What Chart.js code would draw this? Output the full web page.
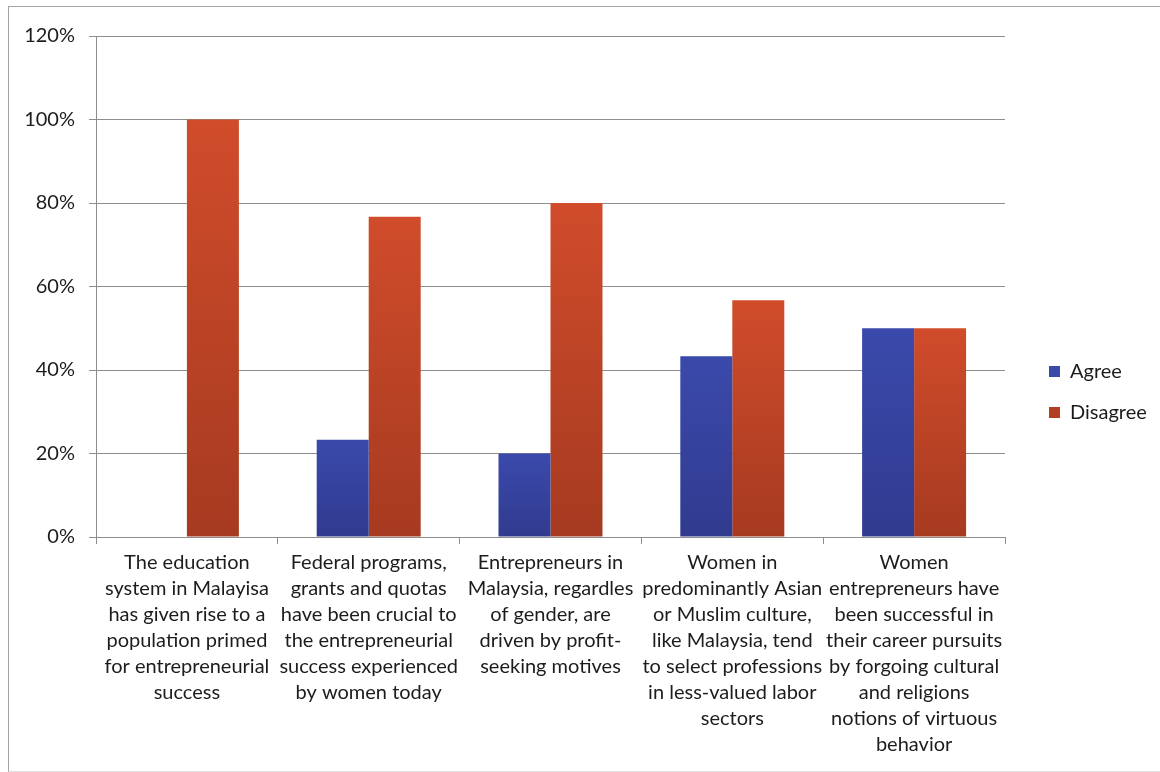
<!DOCTYPE html>
<html><head><meta charset="utf-8">
<script src="https://cdn.jsdelivr.net/npm/chart.js@4.4.1/dist/chart.umd.min.js"></script>
<style>
html,body{margin:0;padding:0;background:#fff;overflow:hidden;}
#frame{position:absolute;left:8px;top:6px;width:1200px;height:764px;border-left:1px solid #a4a4a4;border-top:1px solid #a4a4a4;border-bottom:1px solid #e0e0e0;}
canvas{position:absolute;left:0;top:0;}
</style></head><body>
<div id="frame"></div>
<canvas id="c" width="1160" height="772"></canvas>
<script>
const categories = [
  ["The education","system in Malayisa","has given rise to a","population primed","for entrepreneurial","success"],
  ["Federal programs,","grants and quotas","have been crucial to","the entrepreneurial","success experienced","by women today"],
  ["Entrepreneurs in","Malaysia, regardles","of gender, are","driven by profit-","seeking motives"],
  ["Women in","predominantly Asian","or Muslim culture,","like Malaysia, tend","to select professions","in less-valued labor","sectors"],
  ["Women","entrepreneurs have","been successful in","their career pursuits","by forgoing cultural","and religions","notions of virtuous","behavior"]
];
const seriesNames = ["Agree", "Disagree"];
const agree = [0, 23.3, 20, 43.3, 50];
const disagree = [100, 76.7, 80, 56.7, 50];
const yTicks = [0, 20, 40, 60, 80, 100, 120];

const FONT = "Lato, 'Open Sans', 'Noto Sans', sans-serif";
const GRID = '#8e8e8e';
const TEXT = '#1c1c1c';

function barFill(top, bottom, solid) {
  return (ctx) => {
    const chart = ctx.chart;
    if (!chart.chartArea || ctx.type !== 'data' || !ctx.parsed) return solid;
    const y = chart.scales.y;
    const yTop = y.getPixelForValue(ctx.parsed.y);
    const yBot = y.getPixelForValue(0);
    if (!(yBot > yTop)) return solid;
    const g = chart.ctx.createLinearGradient(0, yTop, 0, yBot);
    g.addColorStop(0, top);
    g.addColorStop(1, bottom);
    return g;
  };
}

const legendPatch = {
  id: 'legendPatch',
  beforeLayout(chart) {
    const lg = chart.legend;
    if (lg && !lg._patched) {
      const proto = Object.getPrototypeOf(lg);
      lg.fit = function () { proto.fit.call(this); this.width = 132; };
      lg._patched = true;
    }
  },
  afterLayout(chart) {
    const lg = chart.legend;
    if (lg) { lg.top -= 12; lg.bottom -= 12; }
  }
};

new Chart(document.getElementById('c'), {
  type: 'bar',
  data: {
    labels: categories,
    datasets: [
      { label: seriesNames[0], data: agree,
        backgroundColor: barFill('#3b49ab', '#303b8f', '#3b4aa8'), borderWidth: 0 },
      { label: seriesNames[1], data: disagree,
        backgroundColor: barFill('#d04c2b', '#a63a20', '#cc4f30'), borderWidth: 0 }
    ]
  },
  plugins: [legendPatch],
  options: {
    responsive: false,
    animation: false,
    devicePixelRatio: 1,
    layout: { padding: { top: 36, bottom: 0, left: 0, right: 0 } },
    datasets: { bar: { categoryPercentage: 0.572, barPercentage: 1.0 } },
    plugins: {
      tooltip: { enabled: false },
      title: { display: false },
      legend: {
        position: 'right',
        align: 'center',
        labels: {
          boxWidth: 11, boxHeight: 11, padding: 21,
          color: TEXT,
          font: { family: FONT, size: 20 }
        }
      }
    },
    scales: {
      x: {
        grid: { display: true, drawOnChartArea: false, drawTicks: true, tickLength: 7, color: GRID, offset: true },
        border: { display: true, color: GRID },
        ticks: {
          color: TEXT, padding: 6, maxRotation: 0, autoSkip: false,
          font: { family: FONT, size: 20, lineHeight: '26px' }
        },
        afterFit: (s) => { s.height = 772 - 537; }
      },
      y: {
        min: 0, max: 120,
        afterBuildTicks: (s) => { s.ticks = yTicks.map(v => ({ value: v })); },
        grid: { color: GRID, tickLength: 7, drawTicks: true },
        border: { display: true, color: GRID },
        ticks: {
          color: TEXT, padding: 14,
          font: { family: FONT, size: 20 },
          callback: (v) => v + '%'
        },
        afterFit: (s) => { s.width = 96; }
      },
      y2: {
        type: 'linear', position: 'right', display: true,
        grid: { display: false, drawTicks: false },
        border: { display: false },
        ticks: { display: false },
        afterFit: (s) => { s.width = 23; }
      }
    }
  }
});
</script>
</body></html>
